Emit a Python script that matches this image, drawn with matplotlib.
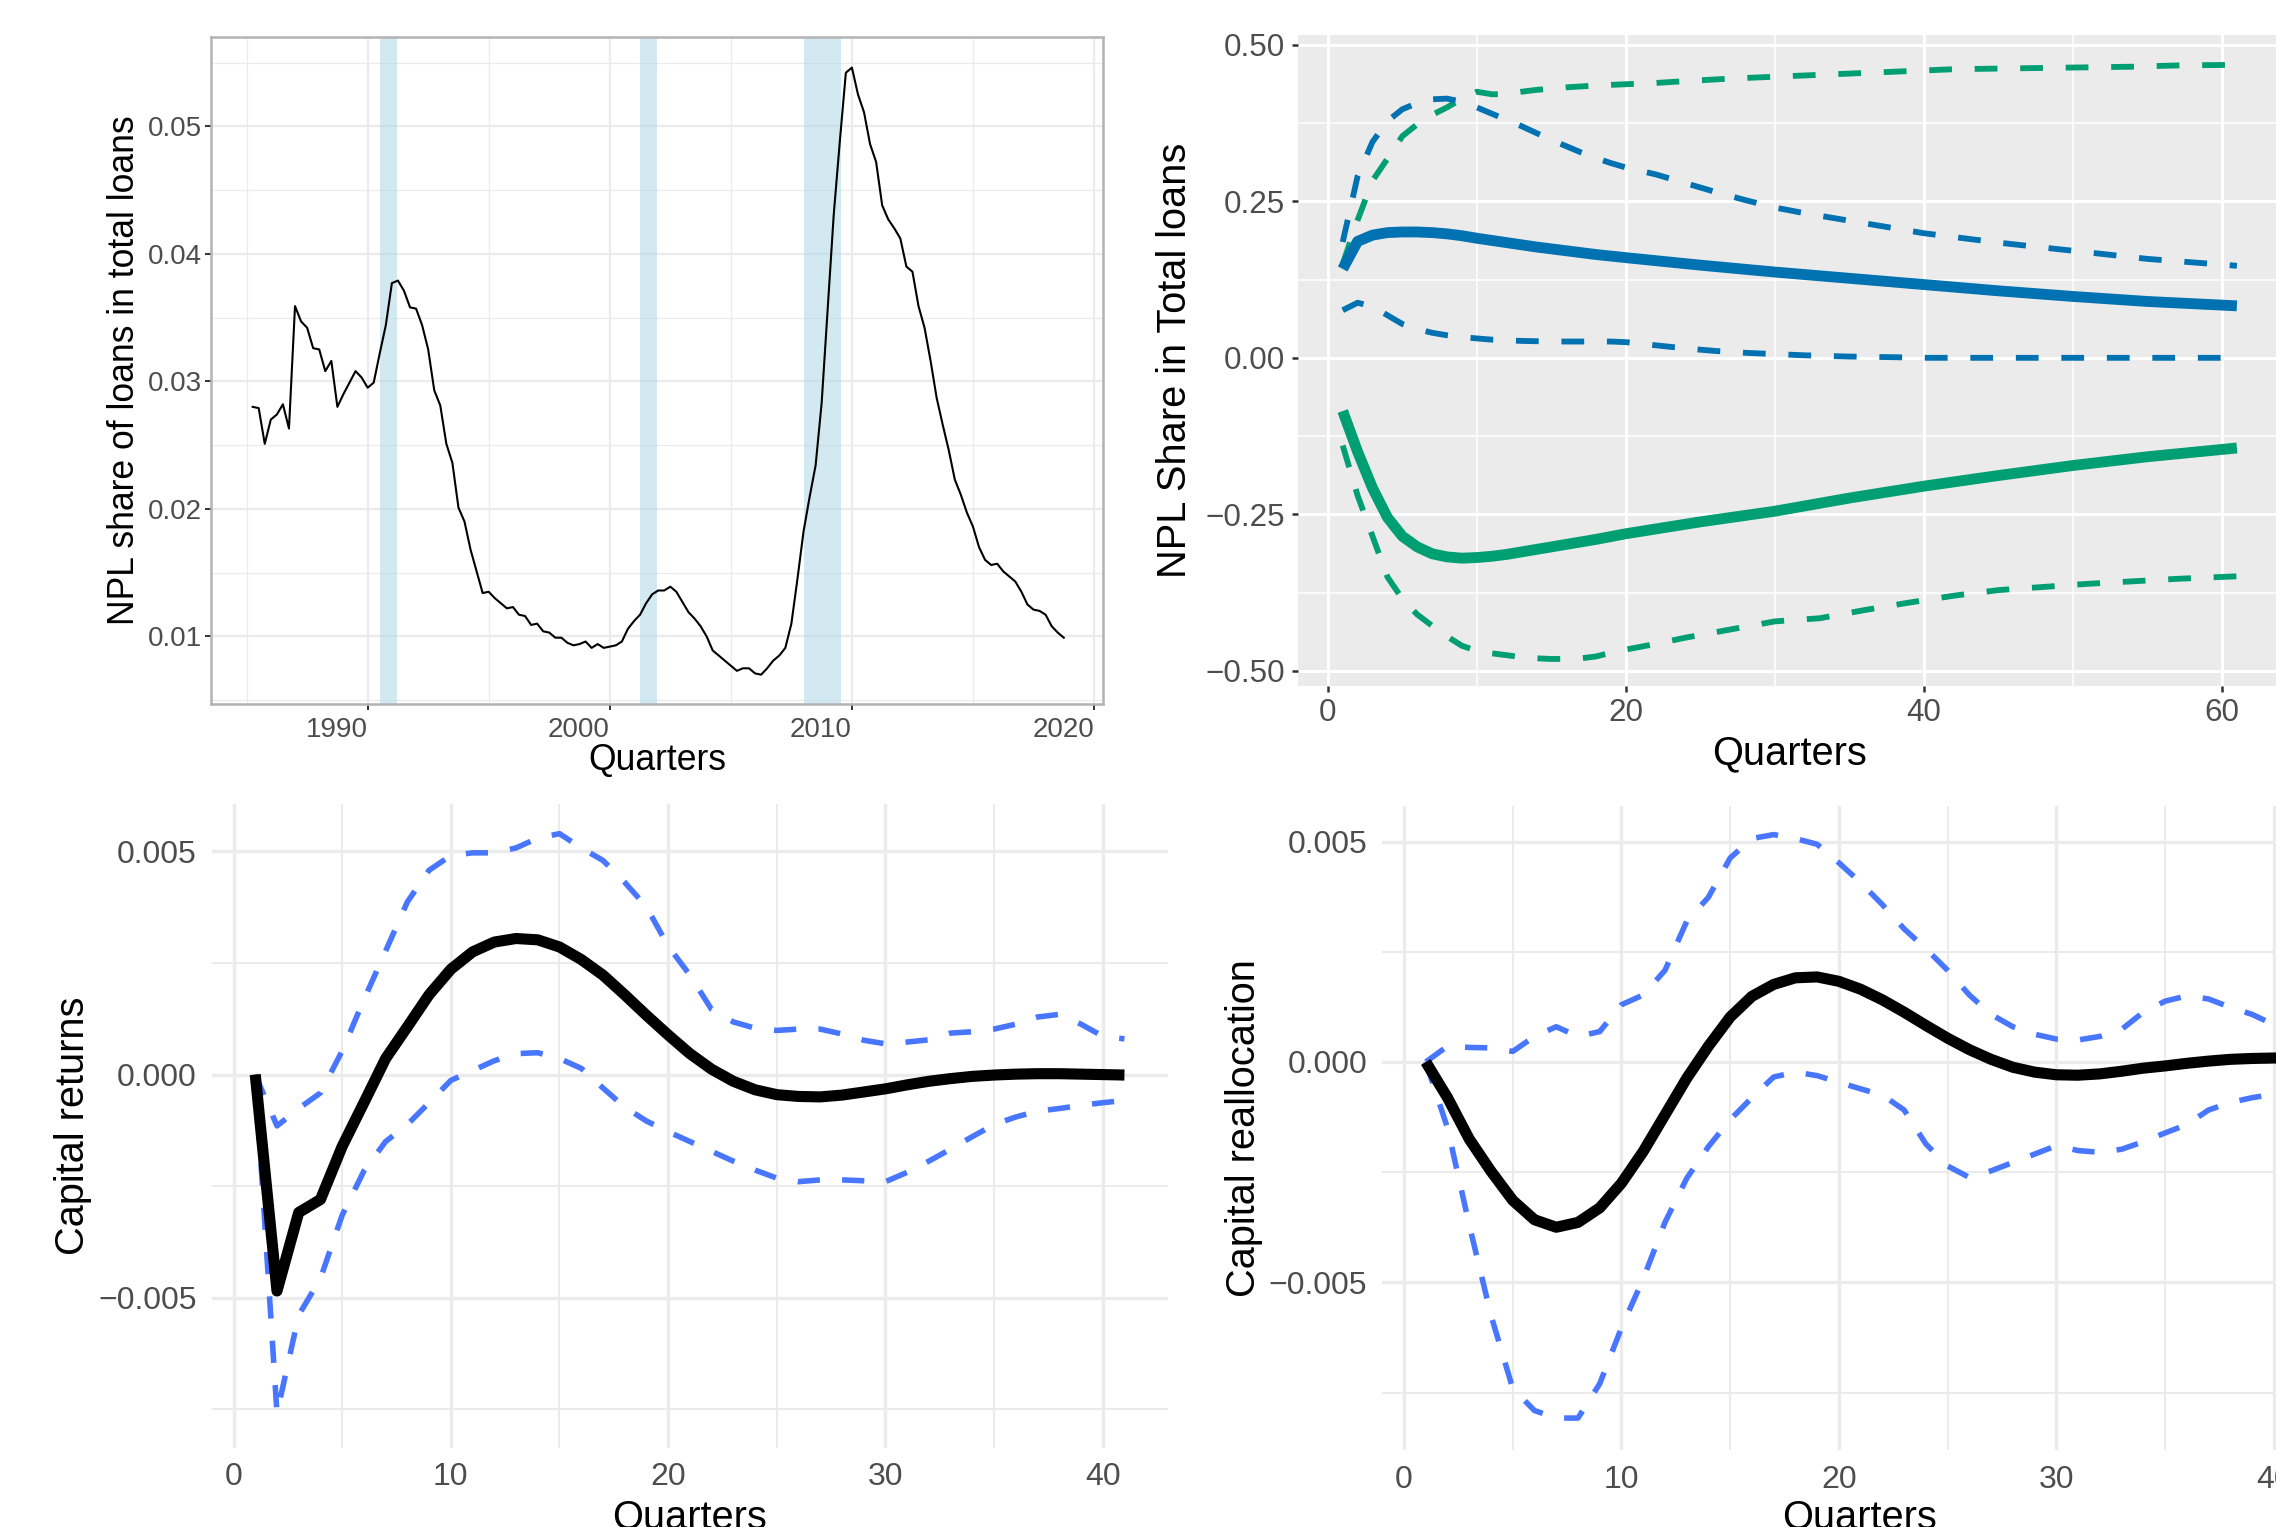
import numpy as np
import pandas as pd
import matplotlib
matplotlib.use("Agg")
import matplotlib.pyplot as plt

plt.rcParams['font.family'] = ['Liberation Sans', 'DejaVu Sans']

# ---------------- Panel 1: NPL share (quarterly, 1985Q2 - 2018Q4) ----------------
npl_periods = pd.period_range('1985Q2', '2018Q4', freq='Q')
npl_share = [
    0.0280, 0.0279, 0.0251, 0.0270, 0.0274, 0.0282, 0.0263, 0.0359, 0.0347, 0.0342,
    0.0326, 0.0325, 0.0308, 0.0316, 0.0280, 0.0290, 0.0299, 0.0308, 0.0303, 0.0295,
    0.0299, 0.0322, 0.0344, 0.0377, 0.0379, 0.0371, 0.0358, 0.0357, 0.0344, 0.0325,
    0.0293, 0.0281, 0.0251, 0.0236, 0.0201, 0.0190, 0.0168, 0.0151, 0.0134, 0.0135,
    0.0130, 0.0126, 0.0122, 0.0123, 0.0117, 0.0116, 0.0109, 0.0110, 0.0104, 0.0103,
    0.0099, 0.0099, 0.0095, 0.0093, 0.0094, 0.0096, 0.0091, 0.0094, 0.0091, 0.0092,
    0.0093, 0.0096, 0.0106, 0.0112, 0.0117, 0.0126, 0.0133, 0.0136, 0.0136, 0.0139,
    0.0135, 0.0127, 0.0119, 0.0114, 0.0108, 0.0100, 0.0089, 0.0085, 0.0081, 0.0077,
    0.0073, 0.0075, 0.0075, 0.0071, 0.0070, 0.0075, 0.0081, 0.0085, 0.0091, 0.0110,
    0.0145, 0.0182, 0.0209, 0.0234, 0.0283, 0.0357, 0.0431, 0.0488, 0.0542, 0.0546,
    0.0525, 0.0511, 0.0486, 0.0472, 0.0438, 0.0427, 0.0420, 0.0412, 0.0390, 0.0386,
    0.0359, 0.0342, 0.0316, 0.0287, 0.0266, 0.0246, 0.0223, 0.0211, 0.0197, 0.0186,
    0.0170, 0.0160, 0.0156, 0.0157, 0.0151, 0.0147, 0.0143, 0.0135, 0.0125, 0.0121,
    0.0120, 0.0117, 0.0108, 0.0103, 0.0099,
]
recession_start = [1990.50, 2001.23, 2008.02]
recession_end = [1991.21, 2001.93, 2009.53]
p1_xticks = [1990, 2000, 2010, 2020]
p1_xticklabels = ['1990', '2000', '2010', '2020']
p1_yticks = [0.01, 0.02, 0.03, 0.04, 0.05]
p1_yticklabels = ['0.01', '0.02', '0.03', '0.04', '0.05']

# ---------------- Panel 2: NPL share IRFs (blue and green) ----------------
p2_blue_mid_q = [1, 2, 3, 4, 5, 6, 7, 8, 9, 10, 12, 14, 16, 18, 20, 25, 30, 35, 40, 45, 50, 55, 61]
p2_blue_mid = [0.142, 0.186, 0.196, 0.200, 0.201, 0.201, 0.200, 0.198, 0.195, 0.191, 0.184,
               0.177, 0.171, 0.165, 0.160, 0.148, 0.137, 0.127, 0.117, 0.107, 0.098, 0.090, 0.083]
p2_blue_up_q = [1, 2, 3, 4, 5, 6, 7, 8, 9, 10, 11, 12, 13, 14, 15, 16, 17, 18, 19, 20, 22, 24,
                26, 28, 30, 32, 35, 40, 45, 50, 55, 61]
p2_blue_up = [0.185, 0.290, 0.345, 0.378, 0.397, 0.407, 0.413, 0.414, 0.409, 0.400, 0.390, 0.380,
              0.370, 0.359, 0.348, 0.338, 0.328, 0.319, 0.311, 0.304, 0.293, 0.279, 0.265, 0.252,
              0.240, 0.231, 0.219, 0.199, 0.184, 0.171, 0.158, 0.147]
p2_blue_lo_q = [1, 2, 3, 4, 5, 6, 7, 8, 9, 10, 11, 12, 13, 15, 17, 19, 20, 22, 24, 26, 28, 30,
                32, 35, 38, 40, 45, 50, 55, 60, 61]
p2_blue_lo = [0.076, 0.088, 0.082, 0.068, 0.054, 0.046, 0.040, 0.036, 0.033, 0.031, 0.029, 0.028,
              0.027, 0.026, 0.026, 0.026, 0.025, 0.020, 0.015, 0.011, 0.008, 0.006, 0.004, 0.002,
              0.001, 0.000, 0.000, 0.000, 0.000, 0.000, 0.000]
p2_green_mid_q = [1, 2, 3, 4, 5, 6, 7, 8, 9, 10, 11, 12, 14, 16, 18, 20, 25, 30, 35, 40, 45, 50, 55, 61]
p2_green_mid = [-0.085, -0.150, -0.208, -0.255, -0.285, -0.302, -0.313, -0.318, -0.320, -0.319,
                -0.317, -0.314, -0.306, -0.298, -0.290, -0.281, -0.262, -0.245, -0.224, -0.205,
                -0.188, -0.172, -0.158, -0.144]
p2_green_up_q = [1, 2, 3, 4, 5, 6, 7, 8, 9, 10, 11, 12, 13, 14, 16, 18, 20, 22, 24, 27, 30, 33,
                 36, 39, 42, 45, 48, 51, 54, 57, 61]
p2_green_up = [0.150, 0.220, 0.283, 0.318, 0.354, 0.373, 0.388, 0.400, 0.414, 0.425, 0.421, 0.421,
               0.425, 0.428, 0.432, 0.435, 0.437, 0.439, 0.442, 0.446, 0.449, 0.452, 0.455, 0.458,
               0.461, 0.462, 0.463, 0.464, 0.465, 0.467, 0.468]
p2_green_lo_q = [1, 2, 3, 4, 5, 6, 7, 8, 9, 10, 11, 12, 13, 14, 15, 16, 17, 18, 19, 20, 22, 24,
                 27, 30, 33, 36, 39, 42, 45, 48, 51, 54, 57, 61]
p2_green_lo = [-0.140, -0.220, -0.285, -0.350, -0.385, -0.410, -0.428, -0.445, -0.460, -0.468,
               -0.472, -0.475, -0.478, -0.480, -0.481, -0.481, -0.480, -0.477, -0.471, -0.466,
               -0.457, -0.447, -0.434, -0.421, -0.416, -0.403, -0.391, -0.380, -0.371, -0.366,
               -0.361, -0.357, -0.353, -0.349]
p2_xticks = [0, 20, 40, 60]
p2_xticklabels = ['0', '20', '40', '60']
p2_yticks = [-0.50, -0.25, 0.00, 0.25, 0.50]
p2_yticklabels = ['\u22120.50', '\u22120.25', '0.00', '0.25', '0.50']

# ---------------- Panel 3: Capital returns IRF (quarters 1..41) ----------------
irf_q = list(range(1, 42))
p3_mid = [0, -0.00485, -0.00309, -0.00280, -0.00161, -0.00063, 0.00036, 0.00107, 0.00179, 0.00236,
          0.00275, 0.00297, 0.00305, 0.00302, 0.00286, 0.00258, 0.00223, 0.00179, 0.00133, 0.00089,
          0.00047, 0.00012, -0.00015, -0.00034, -0.00045, -0.00049, -0.00050, -0.00046, -0.00039,
          -0.00032, -0.00023, -0.00015, -0.00009, -0.00004, -0.00001, 0.00001, 0.00002, 0.00002,
          0.00001, 0.00000, -0.00001]
p3_up = [0, -0.00115, -0.00076, -0.00041, 0.00053, 0.00168, 0.00277, 0.00387, 0.00458, 0.00491,
         0.00497, 0.00497, 0.00508, 0.00530, 0.00540, 0.00508, 0.00480, 0.00431, 0.00376, 0.00288,
         0.00223, 0.00146, 0.00118, 0.00104, 0.00099, 0.00102, 0.00102, 0.00091, 0.00077, 0.00069,
         0.00073, 0.00078, 0.00093, 0.00096, 0.00102, 0.00113, 0.00129, 0.00135, 0.00113, 0.00086,
         0.00080]
p3_lo = [0, -0.00759, -0.00539, -0.00457, -0.00315, -0.00216, -0.00150, -0.00112, -0.00063, -0.00013,
         0.00009, 0.00031, 0.00047, 0.00049, 0.00036, 0.00014, -0.00030, -0.00073, -0.00104, -0.00128,
         -0.00150, -0.00172, -0.00194, -0.00214, -0.00232, -0.00240, -0.00236, -0.00236, -0.00238,
         -0.00240, -0.00219, -0.00194, -0.00167, -0.00139, -0.00112, -0.00095, -0.00082, -0.00076,
         -0.00069, -0.00063, -0.00058]

# ---------------- Panel 4: Capital reallocation IRF (quarters 1..41) ----------------
p4_mid = [0, -0.00081, -0.00175, -0.00248, -0.00314, -0.00358, -0.00375, -0.00364, -0.00331, -0.00275,
          -0.00203, -0.00120, -0.00037, 0.00036, 0.00102, 0.00149, 0.00176, 0.00191, 0.00193, 0.00183,
          0.00165, 0.00141, 0.00113, 0.00083, 0.00054, 0.00028, 0.00006, -0.00012, -0.00023, -0.00029,
          -0.00030, -0.00027, -0.00021, -0.00014, -0.00009, -0.00003, 0.00002, 0.00006, 0.00008,
          0.00009, 0.00010]
p4_up = [0, 0.00036, 0.00033, 0.00032, 0.00024, 0.00058, 0.00080, 0.00058, 0.00069, 0.00130,
         0.00152, 0.00208, 0.00319, 0.00374, 0.00463, 0.00507, 0.00516, 0.00507, 0.00494, 0.00452,
         0.00407, 0.00357, 0.00302, 0.00257, 0.00208, 0.00152, 0.00108, 0.00080, 0.00063, 0.00052,
         0.00050, 0.00058, 0.00074, 0.00113, 0.00138, 0.00150, 0.00143, 0.00124, 0.00108, 0.00085,
         0.00070]
p4_lo = [0, -0.00150, -0.00370, -0.00575, -0.00741, -0.00791, -0.00808, -0.00808, -0.00730, -0.00603,
         -0.00492, -0.00364, -0.00264, -0.00192, -0.00131, -0.00081, -0.00034, -0.00023, -0.00031,
         -0.00046, -0.00061, -0.00075, -0.00109, -0.00186, -0.00236, -0.00262, -0.00247, -0.00228,
         -0.00209, -0.00190, -0.00201, -0.00205, -0.00198, -0.00181, -0.00161, -0.00142, -0.00109,
         -0.00092, -0.00081, -0.00073, -0.00070]
p34_xticks = [0, 10, 20, 30, 40]
p34_xticklabels = ['0', '10', '20', '30', '40']
p34_yticks = [-0.005, 0.000, 0.005]
p34_yticklabels = ['\u22120.005', '0.000', '0.005']

# ---------------- Figure ----------------
W, H, DPI = 2276, 1527, 200
fig = plt.figure(figsize=(W / DPI, H / DPI), dpi=DPI)
fig.patch.set_facecolor('white')


def add_ax(l, t, r, b):
    return fig.add_axes([l / W, 1 - b / H, (r - l) / W, (b - t) / H])


def place_labels(ax, xlab_px, ylab_px):
    ax.xaxis.label.set_va('baseline')
    ax.xaxis.set_label_coords(xlab_px[0] / W, 1 - xlab_px[1] / H, transform=fig.transFigure)
    ax.yaxis.label.set_va('center')
    ax.yaxis.set_label_coords(ylab_px[0] / W, 1 - ylab_px[1] / H, transform=fig.transFigure)


TICK_COL = '#4D4D4D'
DARK = '#333333'

# ---- Panel 1 (theme_bw)
ax1 = add_ax(211, 37, 1103, 704)
ax1.set_xlim(1983.53, 2020.37)
ax1.set_ylim(0.0047, 0.0570)
npl_x = [p.year + (p.quarter - 1) / 4 for p in npl_periods]
for s, e in zip(recession_start, recession_end):
    ax1.axvspan(s, e, facecolor='#ADD8E6', alpha=0.55, lw=0, zorder=1)
ax1.plot(npl_x, npl_share, color='black', lw=0.75, zorder=3)
ax1.set_xticks(p1_xticks, p1_xticklabels)
ax1.set_xticks([1985, 1995, 2005, 2015], minor=True)
ax1.set_yticks(p1_yticks, p1_yticklabels)
ax1.set_yticks([0.005, 0.015, 0.025, 0.035, 0.045, 0.055], minor=True)
ax1.grid(which='major', color='#EBEBEB', lw=0.8, zorder=0)
ax1.grid(which='minor', color='#EBEBEB', lw=0.45, zorder=0)
ax1.set_axisbelow(True)
for sp in ax1.spines.values():
    sp.set_color('#B3B3B3')
    sp.set_linewidth(0.9)
ax1.tick_params(which='major', length=2.2, width=0.7, color=DARK, labelcolor=TICK_COL,
                labelsize=10, pad=1.2)
ax1.tick_params(axis='x', which='major', pad=2.6)
ax1.tick_params(which='minor', length=0)
for lbl in ax1.get_xticklabels():
    lbl.set_ha('right')
ax1.set_xlabel('Quarters', fontsize=12.8, color='black')
ax1.set_ylabel('NPL share of loans in total loans', fontsize=12.8, color='black')
place_labels(ax1, (657, 770), (124, 370))

# ---- Panel 2 (theme_gray)
ax2 = add_ax(1298, 35.4, 2281.6, 686.5)
ax2.set_facecolor('#EBEBEB')
ax2.set_xlim(-2, 64)
ax2.set_ylim(-0.525, 0.515)
ax2.set_xticks(p2_xticks, p2_xticklabels)
ax2.set_xticks([10, 30, 50], minor=True)
ax2.set_yticks(p2_yticks, p2_yticklabels)
ax2.set_yticks([-0.375, -0.125, 0.125, 0.375], minor=True)
ax2.grid(which='major', color='white', lw=1.1)
ax2.grid(which='minor', color='white', lw=0.55)
ax2.set_axisbelow(True)
for sp in ax2.spines.values():
    sp.set_visible(False)
ax2.tick_params(which='major', length=2.2, width=0.9, color=DARK, labelcolor=TICK_COL,
                labelsize=11.3)
ax2.tick_params(axis='x', which='major', pad=1.9)
ax2.tick_params(axis='y', which='major', pad=2.6)
ax2.tick_params(which='minor', length=0)
BLUE, GREEN = '#0072B2', '#009E73'
dash_kw = dict(lw=2.1, dashes=(3.9, 3.9), dash_capstyle='butt', solid_capstyle='butt')
ax2.plot(p2_green_up_q, p2_green_up, color=GREEN, **dash_kw)
ax2.plot(p2_green_lo_q, p2_green_lo, color=GREEN, **dash_kw)
ax2.plot(p2_blue_up_q, p2_blue_up, color=BLUE, **dash_kw)
ax2.plot(p2_blue_lo_q, p2_blue_lo, color=BLUE, **dash_kw)
ax2.plot(p2_green_mid_q, p2_green_mid, color=GREEN, lw=3.9, solid_capstyle='butt')
ax2.plot(p2_blue_mid_q, p2_blue_mid, color=BLUE, lw=3.9, solid_capstyle='butt')
ax2.set_xlabel('Quarters', fontsize=14.3, color='black')
ax2.set_ylabel('NPL Share in Total loans', fontsize=14.3, color='black')
place_labels(ax2, (1790, 764), (1175, 360))

# ---- Panels 3 & 4 (theme_minimal)
RB = '#4876FF'


def minimal_panel(ax, mid, up, lo, ylim, ylabel, xlab_px, ylab_px):
    ax.set_facecolor('white')
    ax.set_xlim(-1, 43)
    ax.set_ylim(*ylim)
    ax.set_xticks(p34_xticks, p34_xticklabels)
    ax.set_xticks([5, 15, 25, 35], minor=True)
    ax.set_yticks(p34_yticks, p34_yticklabels)
    ax.set_yticks([-0.0075, -0.0025, 0.0025], minor=True)
    ax.grid(which='major', color='#EBEBEB', lw=1.2)
    ax.grid(which='minor', color='#EBEBEB', lw=0.7)
    ax.set_axisbelow(True)
    for sp in ax.spines.values():
        sp.set_visible(False)
    ax.tick_params(which='both', length=0, labelcolor=TICK_COL, labelsize=11.5)
    ax.tick_params(axis='x', pad=5.3)
    ax.tick_params(axis='y', pad=5.4)
    ax.plot(irf_q, up, color=RB, lw=2.0, dashes=(4.0, 4.0), dash_capstyle='butt')
    ax.plot(irf_q, lo, color=RB, lw=2.0, dashes=(4.0, 4.0), dash_capstyle='butt')
    ax.plot(irf_q, mid, color='black', lw=4.0, solid_capstyle='butt', solid_joinstyle='round')
    ax.set_xlabel('Quarters', fontsize=14.3, color='black')
    ax.set_ylabel(ylabel, fontsize=14.3, color='black')
    place_labels(ax, xlab_px, ylab_px)


ax3 = add_ax(211.8, 804.2, 1167.9, 1447.6)
minimal_panel(ax3, p3_mid, p3_up, p3_lo, (-0.00836, 0.00606), 'Capital returns',
              (690, 1528), (72.6, 1126))

ax4 = add_ax(1382.3, 805.5, 2339, 1449.8)
minimal_panel(ax4, p4_mid, p4_up, p4_lo, (-0.0088, 0.00582), 'Capital reallocation',
              (1860, 1528), (1244, 1128))

fig.savefig('out.png', dpi=DPI, facecolor='white')
